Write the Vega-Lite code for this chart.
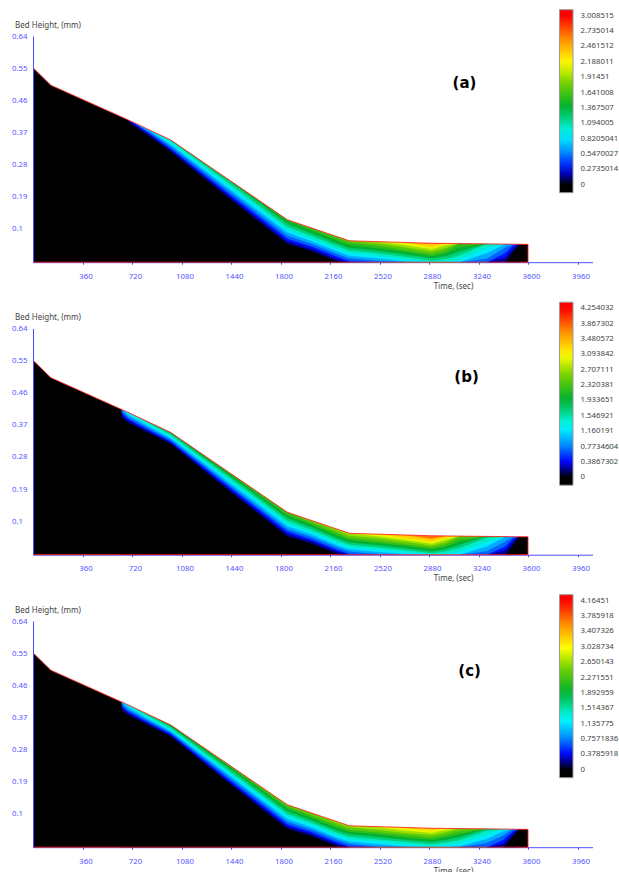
{"$schema":"https://vega.github.io/schema/vega-lite/v6.json","background":"white","padding":{"left":11,"top":9,"right":0,"bottom":0},"bounds":"flush","spacing":65.5,"resolve":{"scale":{"color":"independent"}},"config":{"view":{"stroke":null},"font":"Noto Sans","axis":{"labelFontSize":7.8,"titleFontSize":8,"titleFontWeight":"normal","grid":false},"legend":{"labelFontSize":7.8,"labelColor":"#444444"}},
"datasets":{
"outline":[{"i":1,"t":0,"z":0.551},{"i":2,"t":130,"z":0.502},{"i":3,"t":680,"z":0.407},{"i":4,"t":1000,"z":0.349},{"i":5,"t":1850,"z":0.125},{"i":6,"t":2300,"z":0.066},{"i":7,"t":2900,"z":0.059},{"i":8,"t":3600,"z":0.056},{"i":9,"t":3600,"z":0.006},{"i":10,"t":0,"z":0.006}],
"a":[
{"t":0,"0":0.551},
{"t":130,"0":0.502},
{"t":680,"0":0.407,"150":0.407,"300":0.407},
{"t":720,"0":0.391,"150":0.396,"300":0.4,"480":0.4,"660":0.4,"840":0.4},
{"t":850,"0":0.358,"150":0.362,"300":0.366,"480":0.37,"660":0.3745,"840":0.376,"1020":0.376,"1200":0.376},
{"t":1000,"0":0.316,"150":0.321,"300":0.325,"480":0.331,"660":0.336,"840":0.342,"1020":0.347,"1200":0.349,"1380":0.349},
{"t":1440,"0":0.181,"150":0.187,"300":0.193,"480":0.201,"660":0.208,"840":0.216,"1020":0.223,"1200":0.231,"1380":0.233,"1560":0.233},
{"t":1850,"0":0.058,"150":0.065,"300":0.072,"480":0.08,"660":0.089,"840":0.097,"1020":0.105,"1200":0.114,"1380":0.122,"1560":0.125},
{"t":2030,"0":0.037,"150":0.043,"300":0.049,"480":0.057,"660":0.064,"840":0.071,"1020":0.079,"1200":0.086,"1380":0.094,"1560":0.101,"1740":0.101},
{"t":2215,"0":0.008,"150":0.014,"300":0.021,"480":0.028,"660":0.036,"840":0.043,"1020":0.051,"1200":0.058,"1380":0.066,"1560":0.073,"1740":0.077,"1920":0.077},
{"t":2300,"0":0.006,"150":0.006,"300":0.0097,"480":0.017,"660":0.024,"840":0.032,"1020":0.039,"1200":0.046,"1380":0.054,"1560":0.061,"1740":0.066,"1920":0.066},
{"t":2500,"0":0.006,"150":0.006,"300":0.006,"480":0.01,"660":0.017,"840":0.024,"1020":0.031,"1200":0.038,"1380":0.045,"1560":0.052,"1740":0.059,"1920":0.064,"2100":0.064},
{"t":2700,"0":0.006,"150":0.006,"300":0.006,"480":0.006,"660":0.008,"840":0.015,"1020":0.021,"1200":0.028,"1380":0.035,"1560":0.041,"1740":0.048,"1920":0.054,"2100":0.061,"2350":0.061,"2650":0.061},
{"t":2900,"0":0.006,"150":0.006,"300":0.006,"480":0.006,"660":0.006,"840":0.006,"1020":0.01,"1200":0.017,"1380":0.023,"1560":0.029,"1740":0.036,"1920":0.042,"2100":0.048,"2350":0.057,"2650":0.059},
{"t":3000,"0":0.006,"150":0.006,"300":0.006,"480":0.006,"660":0.006,"840":0.0075,"1020":0.015,"1200":0.0227,"1380":0.0304,"1560":0.0381,"1740":0.0458,"1920":0.0535,"2100":0.0587,"2350":0.0587,"2650":0.0587},
{"t":3100,"0":0.006,"150":0.006,"300":0.006,"480":0.006,"660":0.006,"840":0.0135,"1020":0.025,"1200":0.036,"1380":0.047,"1560":0.0585,"1740":0.0585,"1920":0.0585,"2100":0.0585,"2350":0.0585,"2650":0.0585},
{"t":3300,"0":0.006,"150":0.006,"300":0.006,"480":0.016,"660":0.031,"840":0.045,"1020":0.0575,"1200":0.0575,"1380":0.0575,"1560":0.0575},
{"t":3436,"0":0.006,"150":0.019,"300":0.0315,"480":0.047,"660":0.057,"840":0.057,"1020":0.057},
{"t":3490,"0":0.033,"150":0.043,"300":0.053,"480":0.0565,"660":0.0565},
{"t":3530,"0":0.0565,"150":0.0565,"300":0.0565,"480":0.0565},
{"t":3600,"0":0.056}],
"b":[
{"t":0,"0":0.551},
{"t":130,"0":0.502},
{"t":640,"0":0.414,"213":0.414,"425":0.414,"681":0.414,"936":0.414},
{"t":650,"0":0.389,"213":0.395,"425":0.402,"681":0.409,"936":0.412,"1191":0.412},
{"t":690,"0":0.377,"213":0.382,"425":0.387,"681":0.393,"936":0.399,"1191":0.405,"1446":0.405,"1702":0.405},
{"t":850,"0":0.346,"213":0.35,"425":0.354,"681":0.359,"936":0.364,"1191":0.369,"1446":0.374,"1702":0.376,"1957":0.376},
{"t":1000,"0":0.317,"213":0.321,"425":0.324,"681":0.329,"936":0.333,"1191":0.338,"1446":0.342,"1702":0.347,"1957":0.349,"2212":0.349},
{"t":1440,"0":0.181,"213":0.186,"425":0.192,"681":0.198,"936":0.205,"1191":0.211,"1446":0.218,"1702":0.224,"1957":0.231,"2212":0.233,"2467":0.233},
{"t":1850,"0":0.058,"213":0.064,"425":0.071,"681":0.078,"936":0.086,"1191":0.093,"1446":0.101,"1702":0.109,"1957":0.116,"2212":0.124,"2467":0.125},
{"t":2030,"0":0.037,"213":0.043,"425":0.048,"681":0.055,"936":0.062,"1191":0.068,"1446":0.075,"1702":0.082,"1957":0.089,"2212":0.095,"2467":0.101,"2723":0.101},
{"t":2215,"0":0.008,"213":0.014,"425":0.019,"681":0.026,"936":0.032,"1191":0.039,"1446":0.046,"1702":0.052,"1957":0.059,"2212":0.066,"2467":0.073,"2723":0.077},
{"t":2300,"0":0.006,"213":0.006,"425":0.008,"681":0.015,"936":0.021,"1191":0.027,"1446":0.034,"1702":0.04,"1957":0.047,"2212":0.053,"2467":0.06,"2723":0.066,"2978":0.066},
{"t":2500,"0":0.006,"213":0.006,"425":0.006,"681":0.008,"936":0.014,"1191":0.0205,"1446":0.027,"1702":0.033,"1957":0.039,"2212":0.045,"2467":0.052,"2723":0.058,"2978":0.064,"3318":0.064},
{"t":2700,"0":0.006,"213":0.006,"425":0.006,"681":0.006,"936":0.008,"1191":0.014,"1446":0.019,"1702":0.025,"1957":0.031,"2212":0.036,"2467":0.042,"2723":0.048,"2978":0.053,"3318":0.061,"3744":0.061},
{"t":2900,"0":0.006,"213":0.006,"425":0.006,"681":0.006,"936":0.006,"1191":0.006,"1446":0.01,"1702":0.015,"1957":0.021,"2212":0.026,"2467":0.032,"2723":0.037,"2978":0.043,"3318":0.05,"3744":0.059},
{"t":3000,"0":0.006,"213":0.006,"425":0.006,"681":0.006,"936":0.006,"1191":0.008,"1446":0.0148,"1702":0.0214,"1957":0.028,"2212":0.0346,"2467":0.0411,"2723":0.0477,"2978":0.0543,"3318":0.0587,"3744":0.0587},
{"t":3100,"0":0.006,"213":0.006,"425":0.006,"681":0.006,"936":0.006,"1191":0.015,"1446":0.0245,"1702":0.034,"1957":0.043,"2212":0.052,"2467":0.0585,"2723":0.0585,"2978":0.0585,"3318":0.0585,"3744":0.0585},
{"t":3300,"0":0.006,"213":0.006,"425":0.006,"681":0.016,"936":0.029,"1191":0.041,"1446":0.053,"1702":0.0575,"1957":0.0575,"2212":0.0575,"2467":0.0575},
{"t":3436,"0":0.006,"213":0.018,"425":0.029,"681":0.043,"936":0.057,"1191":0.057,"1446":0.057,"1702":0.057},
{"t":3490,"0":0.033,"213":0.042,"425":0.051,"681":0.0565,"936":0.0565},
{"t":3530,"0":0.0565,"213":0.0565,"425":0.0565,"681":0.0565},
{"t":3600,"0":0.056}],
"c":[
{"t":0,"0":0.551},
{"t":130,"0":0.502},
{"t":640,"0":0.414,"208":0.414,"416":0.414,"666":0.414,"916":0.414},
{"t":650,"0":0.389,"208":0.395,"416":0.4005,"666":0.407,"916":0.412,"1166":0.412,"1416":0.412},
{"t":690,"0":0.377,"208":0.382,"416":0.386,"666":0.392,"916":0.398,"1166":0.403,"1416":0.405,"1666":0.405},
{"t":850,"0":0.346,"208":0.35,"416":0.3535,"666":0.358,"916":0.3625,"1166":0.367,"1416":0.3715,"1666":0.376,"1916":0.376},
{"t":1000,"0":0.317,"208":0.3205,"416":0.324,"666":0.328,"916":0.332,"1166":0.336,"1416":0.341,"1666":0.345,"1916":0.349,"2166":0.349},
{"t":1440,"0":0.181,"208":0.186,"416":0.191,"666":0.198,"916":0.204,"1166":0.21,"1416":0.216,"1666":0.223,"1916":0.229,"2166":0.233,"2415":0.233},
{"t":1850,"0":0.058,"208":0.064,"416":0.07,"666":0.0775,"916":0.085,"1166":0.092,"1416":0.099,"1666":0.107,"1916":0.114,"2166":0.121,"2415":0.125},
{"t":2030,"0":0.037,"208":0.0425,"416":0.048,"666":0.055,"916":0.061,"1166":0.068,"1416":0.0745,"1666":0.081,"1916":0.088,"2166":0.094,"2415":0.101,"2665":0.101},
{"t":2215,"0":0.008,"208":0.014,"416":0.019,"666":0.026,"916":0.032,"1166":0.039,"1416":0.046,"1666":0.052,"1916":0.059,"2166":0.066,"2415":0.073,"2665":0.077},
{"t":2300,"0":0.006,"208":0.006,"416":0.009,"666":0.016,"916":0.022,"1166":0.029,"1416":0.035,"1666":0.042,"1916":0.049,"2166":0.055,"2415":0.062,"2665":0.066,"2915":0.066},
{"t":2500,"0":0.006,"208":0.006,"416":0.006,"666":0.008,"916":0.015,"1166":0.022,"1416":0.028,"1666":0.035,"1916":0.042,"2166":0.048,"2415":0.055,"2665":0.062,"2915":0.064,"3248":0.064},
{"t":2700,"0":0.006,"208":0.006,"416":0.006,"666":0.006,"916":0.008,"1166":0.0145,"1416":0.021,"1666":0.027,"1916":0.0335,"2166":0.04,"2415":0.046,"2665":0.0525,"2915":0.059,"3248":0.061},
{"t":2900,"0":0.006,"208":0.006,"416":0.006,"666":0.006,"916":0.006,"1166":0.008,"1416":0.0145,"1666":0.021,"1916":0.027,"2166":0.0335,"2415":0.04,"2665":0.046,"2915":0.053,"3248":0.059},
{"t":3000,"0":0.006,"208":0.006,"416":0.006,"666":0.006,"916":0.006,"1166":0.0119,"1416":0.0189,"1666":0.0259,"1916":0.0329,"2166":0.0399,"2415":0.047,"2665":0.054,"2915":0.0587,"3248":0.0587},
{"t":3100,"0":0.006,"208":0.006,"416":0.006,"666":0.006,"916":0.009,"1166":0.017,"1416":0.0255,"1666":0.034,"1916":0.042,"2166":0.05,"2415":0.0585,"2665":0.0585,"2915":0.0585,"3248":0.0585},
{"t":3300,"0":0.006,"208":0.006,"416":0.006,"666":0.0175,"916":0.029,"1166":0.04,"1416":0.052,"1666":0.0575,"1916":0.0575,"2166":0.0575,"2415":0.0575},
{"t":3420,"0":0.006,"208":0.016,"416":0.026,"666":0.039,"916":0.051,"1166":0.057,"1416":0.057,"1666":0.057},
{"t":3490,"0":0.036,"208":0.043,"416":0.051,"666":0.0565,"916":0.0565,"1166":0.0565},
{"t":3530,"0":0.0565,"208":0.0565,"416":0.0565,"666":0.0565},
{"t":3600,"0":0.056}]
},
"vconcat":[
{"width":559.5,"height":226.2,"encoding":{"x":{"field":"t","type":"quantitative","scale":{"domain":[0,4069],"nice":false},"axis":{"values":[360,720,1080,1440,1800,2160,2520,2880,3240,3600,3960],"format":"d","labelColor":"#5555ff","labelOffset":3,"labelPadding":8,"tickColor":"#4040ff","tickSize":2,"domainColor":"#5050ff","labelFlush":false,"title":"Time, (sec)","titleColor":"#444444","titleX":420,"titleY":20}},"y":{"field":"z","type":"quantitative","stack":null,"scale":{"domain":[0.006,0.64],"nice":false,"zero":false},"axis":{"values":[0.1,0.19,0.28,0.37,0.46,0.55,0.64],"format":".2~f","labelColor":"#5555ff","labelAlign":"left","labelPadding":21.5,"ticks":false,"domain":true,"domainColor":"#4a4aff","title":"Bed Height, (mm)","titleColor":"#444444","titleAngle":0,"titleAlign":"left","titleBaseline":"middle","titleX":-18.5,"titleY":-11,"zindex":1}}},
"layer":[
{"data":{"name":"a"},"transform":[{"fold":["2650","2350","2100","1920","1740","1560","1380","1200","1020","840","660","480","300","150","0"],"as":["key","z"]}],"mark":{"type":"area","interpolate":"linear"},"encoding":{"y2":{"datum":0.006},"detail":{"field":"key"},"color":{"field":"key","type":"quantitative","scale":{"interpolate":"rgb","domain":[-142,0,271,542,903,1143,1384,1805,2166,2587,3008.5,3115],"range":["#000000","#000000","#0000ff","#0080ff","#00ffff","#00d890","#00b030","#70d000","#ffff00","#ff9000","#ff0000","#ff0000"],"nice":false,"zero":false},"legend":{"title":null,"type":"gradient","orient":"none","legendX":526.5,"legendY":-26.3,"direction":"vertical","gradientLength":183,"gradientThickness":13.5,"gradientStrokeColor":"#999999","gradientStrokeWidth":1,"labelOffset":7.5,"labelOverlap":false,"values":[0,273.5014,547.0027,820.5041,1094.005,1367.507,1641.008,1914.51,2188.011,2461.512,2735.014,3008.515],"labelExpr":"format(datum.value/1000,'.7~r')"}}}},
{"data":{"name":"outline"},"mark":{"type":"line","color":"#ff2020","strokeWidth":1,"opacity":0.85},"encoding":{"order":{"field":"i","type":"quantitative"}}},
{"data":{"values":[{"t":3138,"z":0.509,"label":"(a)"}]},"mark":{"type":"text","font":"DejaVu Sans","fontWeight":"bold","fontSize":15,"color":"#000000"},"encoding":{"text":{"field":"label"}}}
]},
{"width":559.5,"height":226.2,"encoding":{"x":{"field":"t","type":"quantitative","scale":{"domain":[0,4069],"nice":false},"axis":{"values":[360,720,1080,1440,1800,2160,2520,2880,3240,3600,3960],"format":"d","labelColor":"#5555ff","labelOffset":3,"labelPadding":8,"tickColor":"#4040ff","tickSize":2,"domainColor":"#5050ff","labelFlush":false,"title":"Time, (sec)","titleColor":"#444444","titleX":420,"titleY":20}},"y":{"field":"z","type":"quantitative","stack":null,"scale":{"domain":[0.006,0.64],"nice":false,"zero":false},"axis":{"values":[0.1,0.19,0.28,0.37,0.46,0.55,0.64],"format":".2~f","labelColor":"#5555ff","labelAlign":"left","labelPadding":21.5,"ticks":false,"domain":true,"domainColor":"#4a4aff","title":"Bed Height, (mm)","titleColor":"#444444","titleAngle":0,"titleAlign":"left","titleBaseline":"middle","titleX":-18.5,"titleY":-11,"zindex":1}}},
"layer":[
{"data":{"name":"b"},"transform":[{"fold":["3744","3318","2978","2723","2467","2212","1957","1702","1446","1191","936","681","425","213","0"],"as":["key","z"]}],"mark":{"type":"area","interpolate":"linear"},"encoding":{"y2":{"datum":0.006},"detail":{"field":"key"},"color":{"field":"key","type":"quantitative","scale":{"interpolate":"rgb","domain":[-200,0,383,766,1276,1617,1957,2552,3063,3658,4254,4405],"range":["#000000","#000000","#0000ff","#0080ff","#00ffff","#00d890","#00b030","#70d000","#ffff00","#ff9000","#ff0000","#ff0000"],"nice":false,"zero":false},"legend":{"title":null,"type":"gradient","orient":"none","legendX":526.5,"legendY":-26.3,"direction":"vertical","gradientLength":183,"gradientThickness":13.5,"gradientStrokeColor":"#999999","gradientStrokeWidth":1,"labelOffset":7.5,"labelOverlap":false,"values":[0,386.7302,773.4604,1160.191,1546.921,1933.651,2320.381,2707.111,3093.842,3480.572,3867.302,4254.032],"labelExpr":"format(datum.value/1000,'.7~r')"}}}},
{"data":{"name":"outline"},"mark":{"type":"line","color":"#ff2020","strokeWidth":1,"opacity":0.85},"encoding":{"order":{"field":"i","type":"quantitative"}}},
{"data":{"values":[{"t":3153,"z":0.503,"label":"(b)"}]},"mark":{"type":"text","font":"DejaVu Sans","fontWeight":"bold","fontSize":15,"color":"#000000"},"encoding":{"text":{"field":"label"}}}
]},
{"width":559.5,"height":226.2,"encoding":{"x":{"field":"t","type":"quantitative","scale":{"domain":[0,4069],"nice":false},"axis":{"values":[360,720,1080,1440,1800,2160,2520,2880,3240,3600,3960],"format":"d","labelColor":"#5555ff","labelOffset":3,"labelPadding":8,"tickColor":"#4040ff","tickSize":2,"domainColor":"#5050ff","labelFlush":false,"title":"Time, (sec)","titleColor":"#444444","titleX":420,"titleY":20}},"y":{"field":"z","type":"quantitative","stack":null,"scale":{"domain":[0.006,0.64],"nice":false,"zero":false},"axis":{"values":[0.1,0.19,0.28,0.37,0.46,0.55,0.64],"format":".2~f","labelColor":"#5555ff","labelAlign":"left","labelPadding":21.5,"ticks":false,"domain":true,"domainColor":"#4a4aff","title":"Bed Height, (mm)","titleColor":"#444444","titleAngle":0,"titleAlign":"left","titleBaseline":"middle","titleX":-18.5,"titleY":-11,"zindex":1}}},
"layer":[
{"data":{"name":"c"},"transform":[{"fold":["3248","2915","2665","2415","2166","1916","1666","1416","1166","916","666","416","208","0"],"as":["key","z"]}],"mark":{"type":"area","interpolate":"linear"},"encoding":{"y2":{"datum":0.006},"detail":{"field":"key"},"color":{"field":"key","type":"quantitative","scale":{"interpolate":"rgb","domain":[-196,0,375,750,1249,1583,1916,2499,2998,3581,4164.5,4312],"range":["#000000","#000000","#0000ff","#0080ff","#00ffff","#00d890","#00b030","#70d000","#ffff00","#ff9000","#ff0000","#ff0000"],"nice":false,"zero":false},"legend":{"title":null,"type":"gradient","orient":"none","legendX":526.5,"legendY":-26.3,"direction":"vertical","gradientLength":183,"gradientThickness":13.5,"gradientStrokeColor":"#999999","gradientStrokeWidth":1,"labelOffset":7.5,"labelOverlap":false,"values":[0,378.5918,757.1836,1135.775,1514.367,1892.959,2271.551,2650.143,3028.734,3407.326,3785.918,4164.51],"labelExpr":"format(datum.value/1000,'.7~r')"}}}},
{"data":{"name":"outline"},"mark":{"type":"line","color":"#ff2020","strokeWidth":1,"opacity":0.85},"encoding":{"order":{"field":"i","type":"quantitative"}}},
{"data":{"values":[{"t":3175,"z":0.5,"label":"(c)"}]},"mark":{"type":"text","font":"DejaVu Sans","fontWeight":"bold","fontSize":15,"color":"#000000"},"encoding":{"text":{"field":"label"}}}
]}
]}
